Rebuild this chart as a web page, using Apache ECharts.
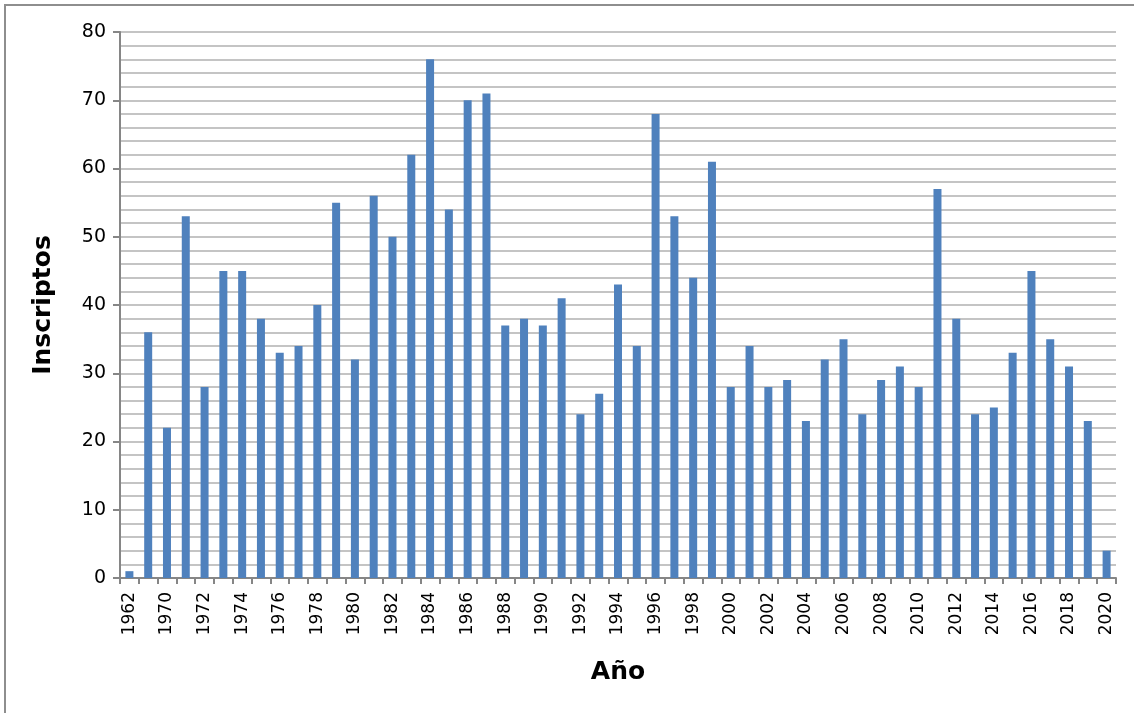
<!DOCTYPE html>
<html>
<head>
<meta charset="utf-8">
<script src="https://cdn.jsdelivr.net/npm/echarts@6/dist/echarts.min.js"></script>
<style>
  html, body { margin: 0; padding: 0; background: #fff; overflow: hidden; }
  #chart { width: 1134px; height: 713px; position: absolute; left: 0; top: 0; }
</style>
</head>
<body>
<div id="chart"></div>
<script>
// Enrolment per year
const years = ['1962', '1969', '1970', '1971', '1972', '1973', '1974', '1975', '1976', '1977',
  '1978', '1979', '1980', '1981', '1982', '1983', '1984', '1985', '1986', '1987',
  '1988', '1989', '1990', '1991', '1992', '1993', '1994', '1995', '1996', '1997',
  '1998', '1999', '2000', '2001', '2002', '2003', '2004', '2005', '2006', '2007',
  '2008', '2009', '2010', '2011', '2012', '2013', '2014', '2015', '2016', '2017',
  '2018', '2019', '2020'];
const inscriptos = [1, 36, 22, 53, 28, 45, 45, 38, 33, 34,
  40, 55, 32, 56, 50, 62, 76, 54, 70, 71,
  37, 38, 37, 41, 24, 27, 43, 34, 68, 53,
  44, 61, 28, 34, 28, 29, 23, 32, 35, 24,
  29, 31, 28, 57, 38, 24, 25, 33, 45, 35,
  31, 23, 4];

const axisGray = '#868686';
const gridGray = '#c4c4c4';
const font = 'DejaVu Sans';

const option = {
  animation: false,
  backgroundColor: '#fff',
  graphic: [{
    type: 'rect',
    shape: { x: 5, y: 5, width: 1200, height: 800 },
    style: { fill: 'none', stroke: '#8e8e8e', lineWidth: 2 },
    silent: true
  }],
  grid: { left: 120, right: 18, top: 32, bottom: 135 },
  xAxis: {
    type: 'category',
    data: years,
    name: 'Año',
    nameLocation: 'middle',
    nameGap: 82,
    nameTextStyle: { fontFamily: font, fontSize: 25, fontWeight: 'bold', color: '#000' },
    axisLine: { lineStyle: { color: axisGray, width: 2 } },
    axisTick: { show: true, interval: 0, length: 6, lineStyle: { color: axisGray, width: 2 } },
    axisLabel: { interval: 1, rotate: 90, margin: 14, fontFamily: font, fontSize: 17, color: '#000' }
  },
  yAxis: {
    type: 'value',
    min: 0,
    max: 80,
    interval: 10,
    name: 'Inscriptos',
    nameLocation: 'middle',
    nameGap: 64,
    nameRotate: 90,
    nameTextStyle: { fontFamily: font, fontSize: 25, fontWeight: 'bold', color: '#000' },
    axisLine: { show: true, lineStyle: { color: axisGray, width: 2 } },
    axisTick: { show: true, length: 7, lineStyle: { color: axisGray, width: 2 } },
    axisLabel: { margin: 14, fontFamily: font, fontSize: 19, color: '#000' },
    splitLine: { show: true, lineStyle: { color: gridGray, width: 2 } },
    minorTick: { show: false, splitNumber: 5 },
    minorSplitLine: { show: true, lineStyle: { color: gridGray, width: 2 } }
  },
  series: [{
    type: 'bar',
    data: inscriptos,
    barWidth: 8,
    itemStyle: { color: '#4F81BD' }
  }]
};

echarts.init(document.getElementById('chart')).setOption(option);
</script>
</body>
</html>
